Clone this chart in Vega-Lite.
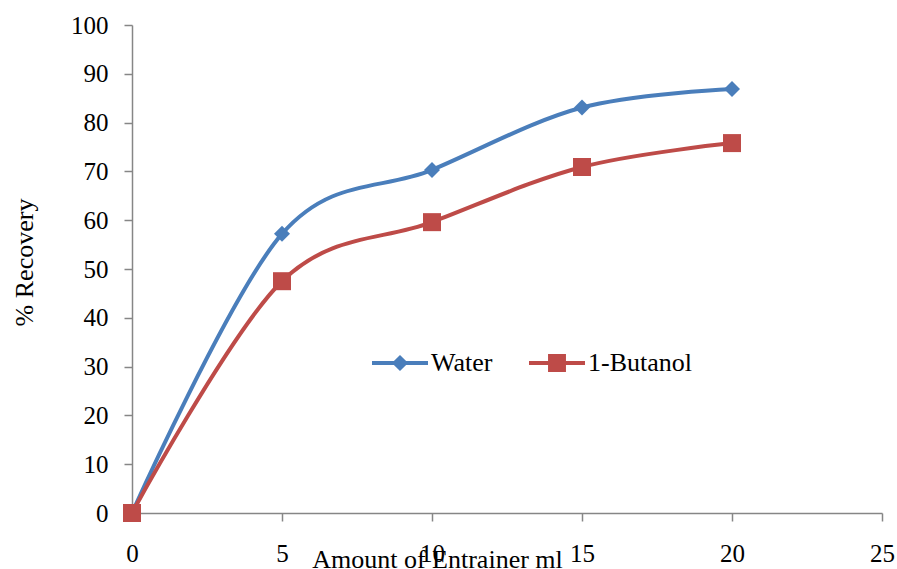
{
  "$schema": "https://vega.github.io/schema/vega-lite/v6.json",
  "width": 750,
  "height": 488,
  "autosize": {"type": "none"},
  "padding": {"left": 132, "top": 25, "right": 15, "bottom": 56},
  "background": "white",
  "config": {
    "view": {"stroke": null},
    "font": "Liberation Serif",
    "axis": {
      "grid": false,
      "domainColor": "#868686",
      "domainWidth": 1.5,
      "tickColor": "#868686",
      "tickWidth": 1.5,
      "tickSize": 8,
      "labelFont": "Liberation Serif",
      "labelFontSize": 25,
      "labelColor": "#000000",
      "titleFont": "Liberation Serif",
      "titleFontSize": 26,
      "titleFontWeight": "normal",
      "titleColor": "#000000"
    }
  },
  "data": {
    "values": [
      {"ml": 0, "recovery": 0, "series": "Water"},
      {"ml": 5, "recovery": 57.2, "series": "Water"},
      {"ml": 10, "recovery": 70.3, "series": "Water"},
      {"ml": 15, "recovery": 83.1, "series": "Water"},
      {"ml": 20, "recovery": 86.9, "series": "Water"},
      {"ml": 0, "recovery": 0, "series": "1-Butanol"},
      {"ml": 5, "recovery": 47.5, "series": "1-Butanol"},
      {"ml": 10, "recovery": 59.6, "series": "1-Butanol"},
      {"ml": 15, "recovery": 70.9, "series": "1-Butanol"},
      {"ml": 20, "recovery": 75.8, "series": "1-Butanol"}
    ]
  },
  "encoding": {
    "x": {
      "field": "ml",
      "type": "quantitative",
      "scale": {"domain": [0, 25], "nice": false, "zero": true},
      "axis": {
        "values": [0, 5, 10, 15, 20, 25],
        "labelPadding": 20,
        "labelFlush": false,
        "labelOverlap": false,
        "title": "Amount of Entrainer ml",
        "titleX": 305,
        "titleY": 46,
        "titleBaseline": "middle"
      }
    },
    "y": {
      "field": "recovery",
      "type": "quantitative",
      "scale": {"domain": [0, 100], "nice": false},
      "axis": {
        "values": [0, 10, 20, 30, 40, 50, 60, 70, 80, 90, 100],
        "labelPadding": 16,
        "labelFlush": false,
        "labelOverlap": false,
        "title": "% Recovery",
        "titleX": -108,
        "titleY": 237,
        "titleBaseline": "middle"
      }
    },
    "color": {
      "field": "series",
      "type": "nominal",
      "sort": ["Water", "1-Butanol"],
      "scale": {"domain": ["Water", "1-Butanol"], "range": ["#4A7EBB", "#BE4B48"]},
      "legend": {
        "title": null,
        "orient": "none",
        "direction": "horizontal",
        "legendX": 240,
        "legendY": 310,
        "padding": 0,
        "symbolSize": 3136,
        "labelFont": "Liberation Serif",
        "labelFontSize": 26,
        "labelColor": "#000000",
        "labelOffset": 3,
        "columnPadding": 36,
        "encode": {
          "symbols": {
            "update": {
              "shape": {"signal": "datum.value === 'Water' ? 'M-1,-0.07H1V0.07H-1Z M0,-0.29L0.29,0L0,0.29L-0.29,0Z' : 'M-1,-0.07H1V0.07H-1Z M-0.32,-0.32H0.32V0.32H-0.32Z'"},
              "fill": {"signal": "datum.value === 'Water' ? '#4A7EBB' : '#BE4B48'"},
              "stroke": {"value": "transparent"},
              "strokeWidth": {"value": 0},
              "opacity": {"value": 1},
              "fillOpacity": {"value": 1}
            }
          }
        }
      }
    }
  },
  "layer": [
    {
      "mark": {"type": "line", "interpolate": "cardinal", "tension": 0, "strokeWidth": 4, "strokeCap": "round"}
    },
    {
      "transform": [{"filter": "datum.series === 'Water'"}],
      "mark": {"type": "point", "filled": true, "opacity": 1, "shape": "diamond", "size": 256}
    },
    {
      "transform": [{"filter": "datum.series === '1-Butanol'"}],
      "mark": {"type": "point", "filled": true, "opacity": 1, "shape": "square", "size": 324}
    }
  ]
}
